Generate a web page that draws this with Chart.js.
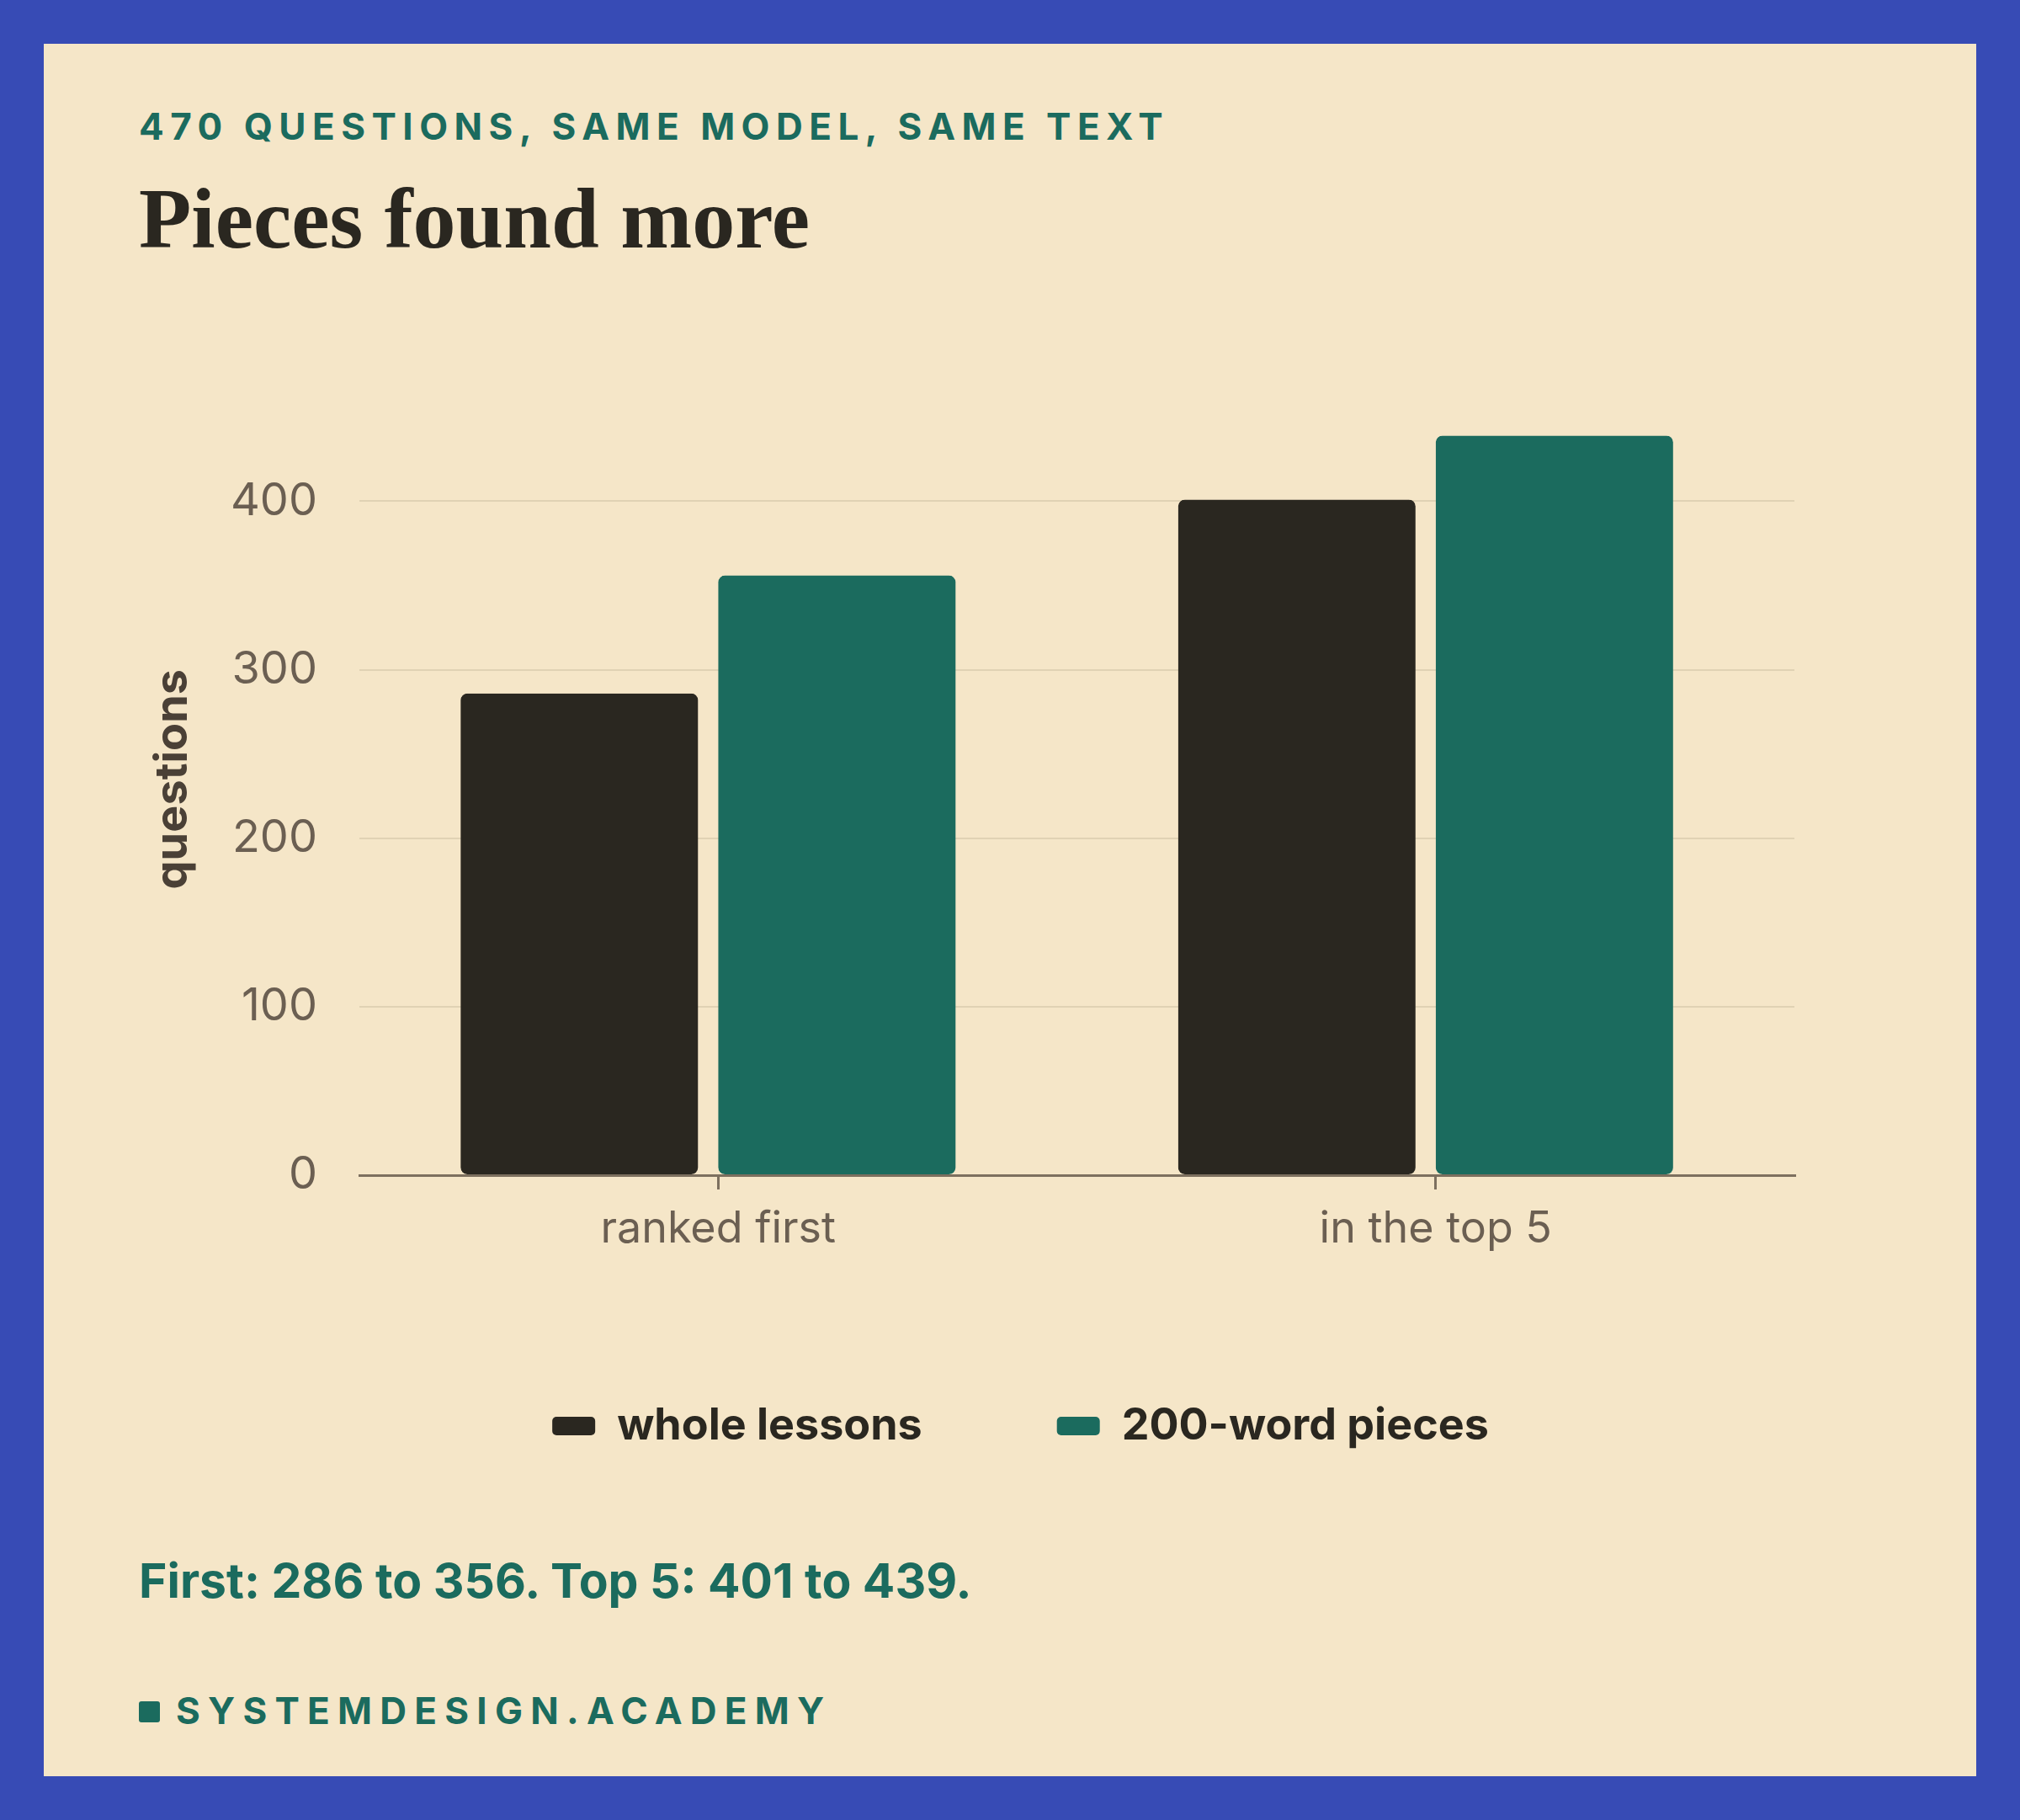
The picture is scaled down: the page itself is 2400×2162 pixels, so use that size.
<!DOCTYPE html>
<html lang="en">
<head>
    <meta charset="UTF-8">
    <title>Pieces found more</title>
    <script src="https://cdn.jsdelivr.net/npm/chart.js"></script>
    <style>
        body {
            margin: 0;
            width: 2400px;
            height: 2162px;
            background: #374bb5;
            font-family: 'Inter', sans-serif;
            position: relative;
            overflow: hidden;
        }
        .panel {
            position: absolute;
            left: 52px;
            top: 52px;
            width: 2296px;
            height: 2058px;
            background: #f5e6c8;
        }
        .kicker, .footer {
            position: absolute;
            left: 165px;
            font-weight: 700;
            font-size: 44px;
            line-height: 1;
            letter-spacing: 0.17em;
            color: #1b6b5e;
            white-space: nowrap;
        }
        .kicker { top: 128px; }
        .title {
            position: absolute;
            left: 165px;
            top: 209px;
            font-family: 'Liberation Serif', serif;
            font-weight: 700;
            font-size: 102px;
            line-height: 1;
            color: #2a2720;
            white-space: nowrap;
        }
        .note {
            position: absolute;
            left: 165px;
            top: 1849px;
            font-weight: 700;
            font-size: 57px;
            line-height: 1;
            color: #1b6b5e;
            white-space: nowrap;
        }
        .footer {
            top: 2010px;
            letter-spacing: 0.21em;
        }
        .footer .dot {
            display: inline-block;
            width: 25px;
            height: 25px;
            border-radius: 3px;
            background: #1b6b5e;
            margin-right: 19px;
            vertical-align: 2px;
        }
        .chart-box {
            position: absolute;
            left: 165px;
            top: 373px;
            width: 2070px;
            height: 1357px;
        }
    </style>
</head>
<body>
    <div class="panel"></div>
    <div class="kicker">470 QUESTIONS, SAME MODEL, SAME TEXT</div>
    <div class="title">Pieces found more</div>
    <div class="chart-box"><canvas id="barChart"></canvas></div>
    <div class="note">First: 286 to 356. Top 5: 401 to 439.</div>
    <div class="footer"><span class="dot"></span>SYSTEMDESIGN.ACADEMY</div>

    <script>
        const categories = ['ranked first', 'in the top 5'];
        const wholeLessons = [286, 401];
        const wordPieces = [356, 439];
        const seriesNames = ['whole lessons', '200-word pieces'];
        const yMax = 470;
        const yStep = 100;

        const inkColor = '#2a2720';
        const greenColor = '#1b6b5e';
        const tickColor = '#6b5f52';
        const axisColor = '#7d705f';

        // the legend sits a little right of the canvas centre in the original
        const nudgeLegend = {
            id: 'nudgeLegend',
            afterLayout(chart) {
                chart.legend.left += 64;
                chart.legend.right += 64;
            }
        };

        // transparent right border leaves the gap on the right of each bar slot;
        // right radii are bigger so the visible corner still ends up rounded
        const gap = 24;
        const corner = 8;
        const barStyle = {
            borderWidth: { right: gap },
            borderColor: 'rgba(0,0,0,0)',
            borderRadius: {
                topLeft: corner, bottomLeft: corner,
                topRight: corner + gap, bottomRight: corner + gap
            },
            borderSkipped: false
        };

        new Chart(document.getElementById('barChart'), {
            type: 'bar',
            data: {
                labels: categories,
                datasets: [
                    { label: seriesNames[0], data: wholeLessons, backgroundColor: inkColor, ...barStyle },
                    { label: seriesNames[1], data: wordPieces, backgroundColor: greenColor, ...barStyle }
                ]
            },
            plugins: [nudgeLegend],
            options: {
                responsive: true,
                maintainAspectRatio: false,
                animation: false,
                categoryPercentage: 0.718,
                barPercentage: 1,
                layout: { padding: { top: 36, right: 103, left: 0, bottom: 0 } },
                plugins: {
                    tooltip: { enabled: false },
                    legend: {
                        position: 'bottom',
                        labels: {
                            boxWidth: 51,
                            boxHeight: 22,
                            useBorderRadius: true,
                            borderRadius: 5,
                            padding: 160,
                            color: inkColor,
                            font: { family: 'Inter', size: 52, weight: 'bold' },
                            generateLabels: chart => chart.data.datasets.map((ds, i) => ({
                                text: ds.label,
                                fillStyle: ds.backgroundColor,
                                strokeStyle: ds.backgroundColor,
                                lineWidth: 0,
                                borderRadius: 5,
                                fontColor: inkColor,
                                hidden: false,
                                datasetIndex: i
                            }))
                        }
                    }
                },
                scales: {
                    x: {
                        grid: {
                            drawOnChartArea: false,
                            offset: false,
                            tickLength: 17,
                            color: axisColor,
                            lineWidth: 3
                        },
                        border: { display: true, color: axisColor, width: 3 },
                        ticks: {
                            color: tickColor,
                            padding: 16,
                            font: { family: 'Inter', size: 52 }
                        },
                        afterFit: scale => { scale.height = 112; }
                    },
                    y: {
                        min: 0,
                        max: yMax,
                        border: { display: false },
                        grid: { color: '#e0d2b4', lineWidth: 2, drawTicks: false },
                        ticks: {
                            stepSize: yStep,
                            color: tickColor,
                            padding: 50,
                            font: { family: 'Inter', size: 54 }
                        },
                        afterBuildTicks: scale => {
                            scale.ticks = scale.ticks.filter(t => t.value % yStep === 0);
                        },
                        title: {
                            display: true,
                            text: 'questions',
                            color: '#4a4036',
                            padding: 8,
                            font: { family: 'Inter', size: 54, weight: 'bold' }
                        },
                        afterFit: scale => { scale.width = 262; }
                    }
                }
            }
        });
    </script>
</body>
</html>
